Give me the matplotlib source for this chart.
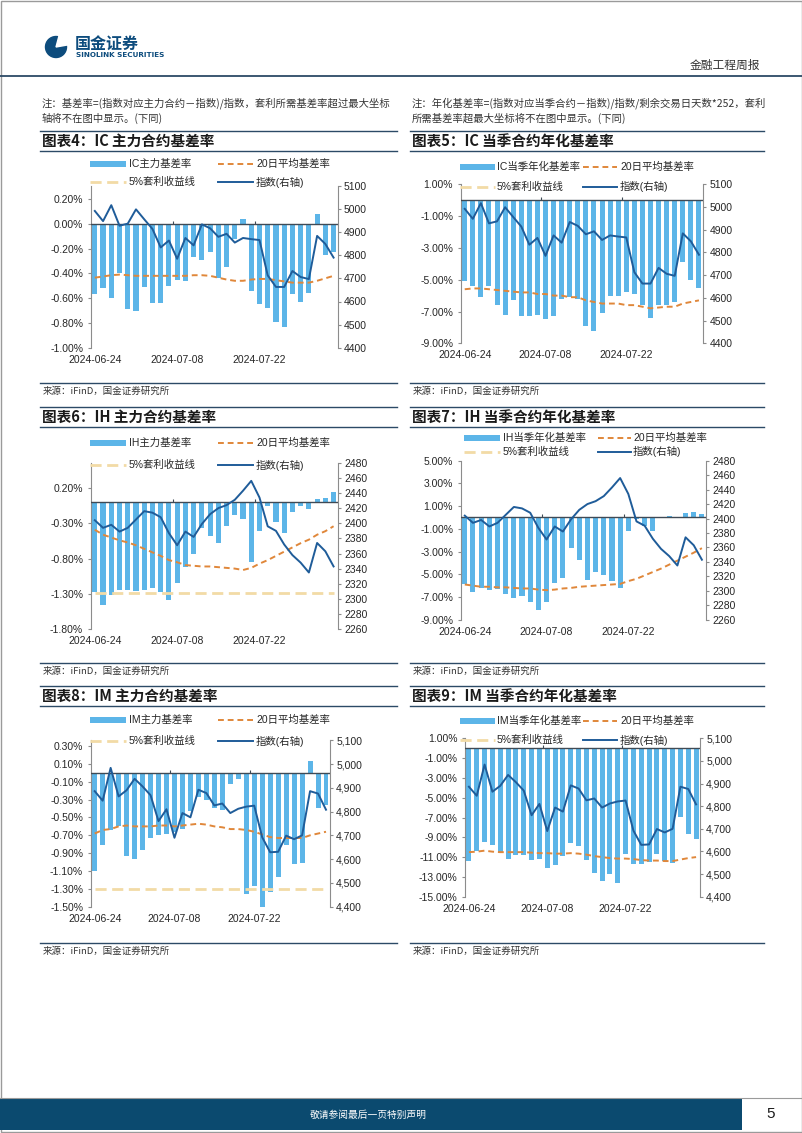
import numpy as np
import pandas as pd
import matplotlib
matplotlib.use('Agg')
import matplotlib.pyplot as plt
from matplotlib.patches import Rectangle, Circle, Wedge
from matplotlib.ticker import FuncFormatter

plt.rcParams['font.family'] = ['Liberation Sans', 'Noto Sans CJK SC', 'DejaVu Sans']

W, H = 802, 1133

# ---- data ----
dates = pd.bdate_range('2024-06-24', '2024-08-02')
date_labels = [d.strftime('%Y-%m-%d') for d in dates]
label_pos = [0, 10, 20]

ic_index = [4992, 4948, 5017, 4928, 4937, 4999, 4956, 4914, 4834, 4864,
            4785, 4875, 4843, 4934, 4917, 4880, 4893, 4855, 4875, 4870,
            4866, 4713, 4663, 4663, 4732, 4706, 4697, 4884, 4849, 4790]
ih_index = [2404, 2394, 2398, 2389, 2394, 2405, 2416, 2414, 2408, 2387,
            2371, 2389, 2382, 2399, 2412, 2420, 2424, 2431, 2443, 2456,
            2434, 2396, 2390, 2372, 2358, 2348, 2335, 2374, 2363, 2343]
im_index = [4886, 4846, 4984, 4864, 4890, 4938, 4906, 4869, 4760, 4810,
            4690, 4794, 4776, 4892, 4878, 4826, 4834, 4794, 4812, 4821,
            4825, 4692, 4629, 4631, 4699, 4684, 4700, 4886, 4876, 4808]

ic_main = [-0.57, -0.52, -0.60, -0.40, -0.69, -0.70, -0.51, -0.64, -0.64, -0.50,
           -0.45, -0.46, -0.27, -0.29, -0.23, -0.44, -0.35, -0.12, 0.035, -0.54,
           -0.65, -0.68, -0.79, -0.83, -0.57, -0.63, -0.56, 0.08, -0.25, -0.23]
ic_main_ma = [-0.435, -0.425, -0.415, -0.41, -0.415, -0.42, -0.42, -0.42, -0.42, -0.42,
              -0.42, -0.42, -0.415, -0.415, -0.42, -0.435, -0.45, -0.46, -0.46, -0.45,
              -0.445, -0.445, -0.455, -0.465, -0.475, -0.475, -0.475, -0.46, -0.44, -0.42]

ic_q = [-5.1, -5.4, -6.1, -5.4, -6.6, -7.2, -6.3, -7.3, -7.3, -7.2,
        -7.5, -7.3, -6.2, -6.1, -6.2, -7.9, -8.2, -7.1, -6.0, -6.0,
        -5.8, -5.9, -6.6, -7.4, -6.6, -6.6, -6.4, -3.9, -5.0, -5.5]
ic_q_ma = [-5.6, -5.55, -5.55, -5.6, -5.65, -5.7, -5.75, -5.8, -5.8, -5.9,
           -5.9, -6.0, -6.0, -6.1, -6.1, -6.3, -6.4, -6.5, -6.5, -6.5,
           -6.6, -6.6, -6.7, -6.8, -6.75, -6.7, -6.7, -6.5, -6.4, -6.3]

ih_main = [-1.27, -1.45, -1.32, -1.25, -1.25, -1.26, -1.25, -1.22, -1.27, -1.39,
           -1.15, -0.92, -0.74, -0.37, -0.48, -0.58, -0.33, -0.18, -0.24, -0.85,
           -0.41, -0.05, -0.28, -0.43, -0.14, -0.05, -0.10, 0.05, 0.06, 0.15]
ih_main_ma = [-0.39, -0.46, -0.50, -0.54, -0.57, -0.61, -0.66, -0.71, -0.76, -0.82,
              -0.85, -0.89, -0.90, -0.91, -0.91, -0.92, -0.93, -0.94, -0.96, -0.93,
              -0.87, -0.82, -0.76, -0.70, -0.64, -0.58, -0.53, -0.46, -0.41, -0.34]
ih_main_arb = -1.29

ih_q = [-5.9, -6.6, -6.2, -6.4, -6.3, -6.7, -7.1, -6.9, -7.4, -8.15,
        -7.4, -5.8, -5.3, -2.7, -3.7, -5.5, -4.8, -5.1, -5.6, -6.2,
        -1.2, -0.1, -0.75, -1.2, -0.05, 0.1, 0.05, 0.4, 0.5, 0.3]
ih_q_ma = [-5.9, -6.0, -6.1, -6.1, -6.15, -6.15, -6.2, -6.25, -6.25, -6.35,
           -6.4, -6.35, -6.25, -6.2, -6.1, -6.05, -6.0, -5.95, -5.9, -5.85,
           -5.6, -5.4, -5.1, -4.8, -4.5, -4.15, -3.8, -3.45, -3.1, -2.7]

im_main = [-1.10, -0.81, -0.64, -0.60, -0.93, -0.96, -0.87, -0.73, -0.70, -0.69,
           -0.66, -0.63, -0.43, -0.27, -0.30, -0.39, -0.42, -0.13, -0.07, -1.36,
           -1.27, -1.50, -1.33, -1.17, -0.81, -1.02, -1.01, 0.13, -0.39, -0.36]
im_main_ma = [-0.68, -0.64, -0.63, -0.60, -0.59, -0.60, -0.60, -0.60, -0.59, -0.59,
              -0.60, -0.59, -0.58, -0.57, -0.58, -0.60, -0.61, -0.63, -0.63, -0.64,
              -0.66, -0.69, -0.72, -0.73, -0.73, -0.73, -0.73, -0.70, -0.68, -0.66]
im_main_arb = -1.30

im_q = [-11.4, -10.35, -9.5, -9.75, -10.6, -11.2, -10.8, -10.8, -11.3, -11.2,
        -12.1, -11.8, -10.9, -9.6, -9.85, -11.3, -12.6, -13.4, -12.7, -13.6,
        -10.7, -11.7, -11.7, -11.5, -10.65, -11.4, -11.6, -6.9, -8.7, -9.2]
im_q_ma = [-10.5, -10.45, -10.35, -10.45, -10.5, -10.5, -10.5, -10.5, -10.55, -10.6,
           -10.6, -10.65, -10.65, -10.6, -10.65, -10.75, -10.9, -11.0, -11.1, -11.15,
           -11.15, -11.2, -11.3, -11.35, -11.35, -11.4, -11.4, -11.25, -11.1, -11.0]

# ---- styles ----
BAR = '#5cb5e8'
MA = '#e0873a'
ARB = '#f2dba6'
IDX = '#1f5c99'
GRAY = '#8c8c8c'
ZERO = '#3f4a55'
NAVY = '#2c4a66'
TXT = '#262626'
FS = 7.5
CJK = ['Noto Sans CJK SC', 'DejaVu Sans']

fig = plt.figure(figsize=(W / 100, H / 100), dpi=100)


def fig_rect(x0, y0, x1, y1):
    return [x0 / W, 1 - y1 / H, (x1 - x0) / W, (y1 - y0) / H]


def draw_chart(box, bars, ma, index, arb, lticks, llim, rticks, rlim, comma=False):
    ax = fig.add_axes(fig_rect(*box))
    x = np.arange(len(bars))
    ax.bar(x, bars, width=0.62, color=BAR, zorder=2)
    ax.plot(x, ma, color=MA, lw=1.4, dashes=(3, 2), zorder=3)
    if arb is not None:
        ax.plot(x, [arb] * len(x), color=ARB, lw=2.0, dashes=(4, 2), zorder=3)
    ax.axhline(0, color=ZERO, lw=1.0, zorder=4)
    ax.set_xlim(-0.5, len(x) - 0.5)
    ax.set_ylim(*llim)
    ax.set_yticks(lticks)
    ax.yaxis.set_major_formatter(FuncFormatter(lambda v, p: '%.2f%%' % (v + 0.0)))
    # small category-axis tick marks on the zero line
    h = (llim[1] - llim[0]) * 3.0 / (box[3] - box[1])
    ax.vlines([9.5, 19.5], 0, h, color=ZERO, lw=0.8, zorder=4)
    ax.set_xticks(label_pos)
    ax.set_xticklabels([date_labels[i] for i in label_pos])
    ax.tick_params(axis='x', length=0, pad=5, labelsize=FS, labelcolor=TXT)
    ax.tick_params(axis='y', length=2.5, width=0.8, color=GRAY, pad=3,
                   labelsize=FS, labelcolor=TXT)
    for s in ['top', 'right', 'bottom']:
        ax.spines[s].set_visible(False)
    ax.spines['left'].set_color(GRAY)
    ax.patch.set_alpha(0)

    ax2 = ax.twinx()
    ax2.plot(x, index, color=IDX, lw=1.4, zorder=5)
    ax2.set_ylim(*rlim)
    ax2.set_yticks(rticks)
    if comma:
        ax2.yaxis.set_major_formatter(FuncFormatter(lambda v, p: '{:,.0f}'.format(v)))
    else:
        ax2.yaxis.set_major_formatter(FuncFormatter(lambda v, p: '%d' % v))
    ax2.tick_params(axis='y', length=2.5, width=0.8, color=GRAY, pad=2,
                    labelsize=FS, labelcolor=TXT)
    for s in ['top', 'left', 'bottom']:
        ax2.spines[s].set_visible(False)
    ax2.spines['right'].set_color(GRAY)
    return ax


# ---- six charts ----
draw_chart((90.7, 186, 337.7, 347.7), ic_main, ic_main_ma, ic_index, None,
           [-1.0, -0.8, -0.6, -0.4, -0.2, 0.0, 0.2], (-1.0, 0.305),
           [4400, 4500, 4600, 4700, 4800, 4900, 5000, 5100], (4400, 5100))
draw_chart((460.7, 184.3, 703, 343.3), ic_q, ic_q_ma, ic_index, None,
           [-9, -7, -5, -3, -1, 1], (-9, 1),
           [4400, 4500, 4600, 4700, 4800, 4900, 5000, 5100], (4400, 5100))
draw_chart((90.7, 462.7, 337.7, 629.3), ih_main, ih_main_ma, ih_index, ih_main_arb,
           [-1.8, -1.3, -0.8, -0.3, 0.2], (-1.8, 0.56),
           list(range(2260, 2481, 20)), (2260, 2480))
draw_chart((460.7, 460.7, 706, 619.7), ih_q, ih_q_ma, ih_index, None,
           [-9, -7, -5, -3, -1, 1, 3, 5], (-9, 5),
           list(range(2260, 2481, 20)), (2260, 2480))
draw_chart((90.7, 740.3, 330, 906.7), im_main, im_main_ma, im_index, im_main_arb,
           [-1.5, -1.3, -1.1, -0.9, -0.7, -0.5, -0.3, -0.1, 0.1, 0.3], (-1.5, 0.365),
           [4400, 4500, 4600, 4700, 4800, 4900, 5000, 5100], (4400, 5100), comma=True)
draw_chart((465, 738.3, 700, 896.7), im_q, im_q_ma, im_index, None,
           [-15, -13, -11, -9, -7, -5, -3, -1, 1], (-15, 1),
           [4400, 4500, 4600, 4700, 4800, 4900, 5000, 5100], (4400, 5100), comma=True)

# ---- page overlay: header, titles, legends, footer ----
page = fig.add_axes([0, 0, 1, 1])
page.set_xlim(0, W)
page.set_ylim(H, 0)
page.axis('off')

page.add_patch(Rectangle((0.5, 0.5), W - 1, H - 1.5, fill=False, ec='#9a9a9a', lw=1))

# logo
page.add_patch(Circle((56, 47), 10.5, color='#0d4c7d'))
page.add_patch(Wedge((56, 47), 12, -75, -10, color='white'))
page.add_patch(Circle((61.5, 42), 3.2, color='white'))
page.text(75, 43.5, '国金证券', fontsize=11.5, fontweight='bold', color='#0d4c7d',
          va='center', ha='left', family=CJK)
page.text(75.5, 55, 'SINOLINK SECURITIES', fontsize=5.2, fontweight='bold',
          color='#0d4c7d', va='center', ha='left', family='Liberation Sans Narrow')
page.text(760, 65, '金融工程周报', fontsize=8.5, color='#333333', va='center',
          ha='right', family=CJK)
page.plot([0, W], [75.5, 75.5], color=NAVY, lw=1.3)

# notes
NOTE_FS = 7.45
page.text(42, 103, '注：基差率=(指数对应主力合约－指数)/指数，套利所需基差率超过最大坐标',
          fontsize=NOTE_FS, color='#333333', va='center', ha='left', family=CJK)
page.text(42, 118, '轴将不在图中显示。(下同)',
          fontsize=NOTE_FS, color='#333333', va='center', ha='left', family=CJK)
page.text(412, 103, '注：年化基差率=(指数对应当季合约－指数)/指数/剩余交易日天数*252，套利',
          fontsize=NOTE_FS, color='#333333', va='center', ha='left', family=CJK)
page.text(412, 118, '所需基差率超最大坐标将不在图中显示。(下同)',
          fontsize=NOTE_FS, color='#333333', va='center', ha='left', family=CJK)

cols = [(40, 397, 42), (410, 764, 412)]
rows = [(131, 141, 151, 383, 391), (407, 416.5, 427, 663, 671), (686, 696, 706, 943, 951)]
titles = [['图表4：IC 主力合约基差率', '图表5：IC 当季合约年化基差率'],
          ['图表6：IH 主力合约基差率', '图表7：IH 当季合约年化基差率'],
          ['图表8：IM 主力合约基差率', '图表9：IM 当季合约年化基差率']]
for r, (ytop, ytitle, yline, ysrc_line, ysrc) in enumerate(rows):
    for c, (x0, x1, xt) in enumerate(cols):
        page.plot([x0, x1], [ytop, ytop], color=NAVY, lw=1.0)
        page.plot([x0, x1], [yline, yline], color=NAVY, lw=1.0)
        page.text(xt, ytitle, titles[r][c], fontsize=10.5, fontweight='bold',
                  style='italic', color='#1a1a1a', va='center', ha='left', family=CJK)
        page.plot([x0, x1], [ysrc_line, ysrc_line], color=NAVY, lw=1.0)
        page.text(xt + 1, ysrc, '来源：iFinD，国金证券研究所', fontsize=6.8,
                  color='#333333', va='center', ha='left', family=CJK)


def legend(rows_y, colA, colB, bar_label):
    y1, y2 = rows_y
    ax0, ax1, atx = colA
    bx0, bx1, btx = colB
    page.add_patch(Rectangle((ax0, y1 - 3), ax1 - ax0, 6, color=BAR, lw=0))
    page.text(atx, y1, bar_label, fontsize=FS, color=TXT, va='center', ha='left')
    page.plot([bx0, bx1], [y1, y1], color=MA, lw=1.4, dashes=(3, 2))
    page.text(btx, y1, '20日平均基差率', fontsize=FS, color=TXT, va='center', ha='left')
    page.plot([ax0, ax1], [y2, y2], color=ARB, lw=2.0, dashes=(4, 2))
    page.text(atx, y2, '5%套利收益线', fontsize=FS, color=TXT, va='center', ha='left')
    page.plot([bx0, bx1], [y2, y2], color=IDX, lw=1.4)
    page.text(btx, y2, '指数(右轴)', fontsize=FS, color=TXT, va='center', ha='left')


L_A, L_B = (90, 126, 129), (218, 253, 256)
R_A, R_B = (460, 495, 497), (583, 617, 620)
legend((164.3, 182), L_A, L_B, 'IC主力基差率')
legend((166.7, 186.7), R_A, R_B, 'IC当季年化基差率')
legend((443.3, 465), L_A, L_B, 'IH主力基差率')
legend((438.3, 451.7), (464, 500, 503), (598, 631, 633), 'IH当季年化基差率')
legend((720, 741), L_A, L_B, 'IM主力基差率')
legend((720.7, 740), R_A, R_B, 'IM当季年化基差率')

# footer
page.plot([0, W], [1097.5, 1097.5], color='#9a9a9a', lw=0.8)
page.add_patch(Rectangle((0, 1099), 742, 31, color='#0b4a6f', lw=0))
page.text(368, 1114.5, '敬请参阅最后一页特别声明', fontsize=7, color='white',
          va='center', ha='center', family=CJK)
page.text(771, 1114.5, '5', fontsize=11, color='#1a1a1a', va='center', ha='center')

fig.savefig('out.png', dpi=100)
